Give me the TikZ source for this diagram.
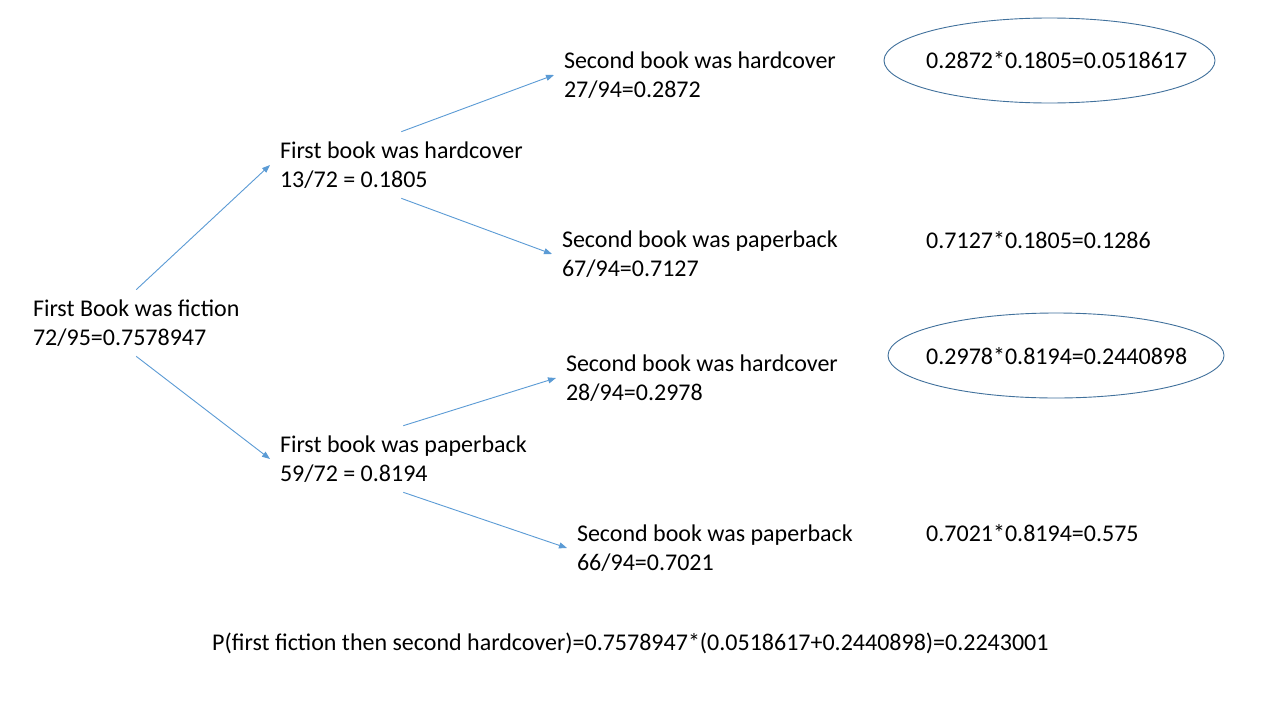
\documentclass[tikz,border=0pt]{standalone}
\usepackage{fontspec}
\setmainfont{Carlito}
\usetikzlibrary{arrows.meta, positioning, calc}
\definecolor{arrblue}{HTML}{5B9BD5}
\definecolor{ringblue}{HTML}{41719C}

\begin{document}
\begin{tikzpicture}[
  x=1pt, y=-1pt,
  >={Triangle[length=8pt, width=6pt]},
  font=\fontsize{24}{29}\selectfont,
  branch/.style={align=left, inner sep=0pt, outer sep=10pt, anchor=west},
  prod/.style={inner sep=0pt, anchor=west},
  edge/.style={->, arrblue, line width=0.9pt},
  ring/.style={ringblue, line width=0.9pt},
]

% Background
\useasboundingbox (0,0) rectangle (1280,720);
\fill[white] (0,0) rectangle (1280,720);

% =============================================
% Tree nodes
% =============================================
\node[branch] (fiction) at (23,323) {First Book was fiction\\72/95=0.7578947};

\node[branch] (hard1) at (270,165) {First book was hardcover\\13/72 = 0.1805};
\node[branch] (pap1)  at (270,459) {First book was paperback\\59/72 = 0.8194};

\node[branch] (hh) at (554,75)  {Second book was hardcover\\27/94=0.2872};
\node[branch] (hp) at (552,254) {Second book was paperback\\67/94=0.7127};
\node[branch] (ph) at (556,378) {Second book was hardcover\\28/94=0.2978};
\node[branch] (pp) at (567,548) {Second book was paperback\\66/94=0.7021};

% Branches
\draw[edge] (fiction.north) -- (hard1.west);
\draw[edge] (fiction.south) -- (pap1.west);
\draw[edge] (hard1.north) -- (hh.west);
\draw[edge] (hard1.south) -- (hp.west);
\draw[edge] (pap1.north) -- (ph.west);
\draw[edge] (pap1.south) -- (pp.west);

% =============================================
% Products of the path probabilities
% =============================================
\node[prod] (rhh) at (926,60)  {0.2872*0.1805=0.0518617};
\node[prod] (rhp) at (926,240) {0.7127*0.1805=0.1286};
\node[prod] (rph) at (926,356) {0.2978*0.8194=0.2440898};
\node[prod] (rpp) at (926,533) {0.7021*0.8194=0.575};

% Circled results (second hardcover)
\draw[ring] (1049.5,60.5) ellipse [x radius=165.5, y radius=42.5];
\draw[ring] (1056,355.5) ellipse [x radius=168, y radius=42.5];

% Bottom: total probability
\node[prod] (total) at (212,643)
  {P(first fiction then second hardcover)=0.7578947*(0.0518617+0.2440898)=0.2243001};

\end{tikzpicture}
\end{document}
